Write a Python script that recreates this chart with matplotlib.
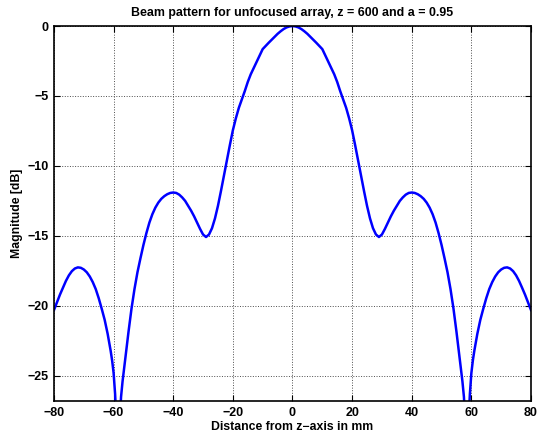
import matplotlib
matplotlib.use('Agg')
import matplotlib.pyplot as plt

# beam pattern, left half then right half
x_left = [-80, -79, -78, -77, -76, -75, -74, -73, -72, -71, -70, -69, -68, -67, -66, -65, -64, -63, -62,
          -61, -60.5, -60, -59.5, -59, -58.5, -58, -57.5, -57, -56.5, -56, -55, -54, -53, -52, -51, -50,
          -49, -48, -47, -46, -45, -44, -43, -42, -41, -40, -39, -38, -37, -36, -35, -34, -33, -32, -31,
          -30, -29, -28, -27, -26, -25, -24, -23, -22, -21, -20, -19, -18, -17, -16, -15, -14, -13, -12,
          -11, -10, -9, -8, -7, -6, -5, -4, -3, -2, -1]
db_left = [-20.3, -19.75, -19.2, -18.7, -18.22, -17.82, -17.52, -17.33, -17.25, -17.28, -17.4, -17.6, -17.9,
           -18.3, -18.8, -19.45, -20.2, -21.0, -22.0, -23.2, -23.9, -24.8, -26.3, -28.5, -45.0, -28.5, -26.5,
           -25.4, -24.5, -23.6, -21.85, -20.2, -18.8, -17.6, -16.6, -15.65, -14.8, -14.05, -13.45, -12.98,
           -12.62, -12.35, -12.16, -12.02, -11.93, -11.9, -11.93, -12.05, -12.25, -12.5, -12.85, -13.2, -13.6,
           -14.05, -14.5, -14.9, -15.08, -14.9, -14.45, -13.75, -12.85, -11.8, -10.7, -9.6, -8.5, -7.45, -6.6,
           -5.85, -5.25, -4.65, -4.0, -3.45, -3.0, -2.55, -2.1, -1.65, -1.42, -1.2, -0.99, -0.77, -0.56,
           -0.38, -0.22, -0.1, -0.03]

x_right = [0, 1, 2, 3, 4, 5, 6, 7, 8, 9, 10, 11, 12, 13, 14, 15, 16, 17, 18, 19, 20, 21, 22, 23, 24, 25,
           26, 27, 28, 29, 30, 31, 32, 33, 34, 35, 36, 37, 38, 39, 40, 41, 42, 43, 44, 45, 46, 47, 48, 49,
           50, 51, 52, 53, 54, 55, 56, 56.5, 57, 57.5, 58, 58.5, 59, 59.5, 60, 60.5, 61, 62, 63, 64, 65, 66,
           67, 68, 69, 70, 71, 72, 73, 74, 75, 76, 77, 78, 79, 80]
db_right = [0.0, -0.03, -0.1, -0.22, -0.38, -0.56, -0.77, -0.99, -1.2, -1.42, -1.65, -2.1, -2.55, -3.0,
            -3.45, -4.0, -4.65, -5.25, -5.85, -6.6, -7.45, -8.5, -9.6, -10.7, -11.8, -12.85, -13.75, -14.45,
            -14.9, -15.08, -14.9, -14.5, -14.05, -13.6, -13.2, -12.85, -12.5, -12.25, -12.05, -11.93, -11.9,
            -11.93, -12.02, -12.16, -12.35, -12.62, -12.98, -13.45, -14.05, -14.8, -15.65, -16.6, -17.6, -18.8,
            -20.2, -21.85, -23.6, -24.5, -25.4, -26.5, -28.5, -45.0, -28.5, -26.3, -24.8, -23.9, -23.2, -22.0,
            -21.0, -20.2, -19.45, -18.8, -18.3, -17.9, -17.6, -17.4, -17.28, -17.25, -17.33, -17.52, -17.82,
            -18.22, -18.7, -19.2, -19.75, -20.3]

xticks = [-80, -60, -40, -20, 0, 20, 40, 60, 80]
yticks = [-25, -20, -15, -10, -5, 0]

plt.rcParams['font.family'] = ['Liberation Sans', 'DejaVu Sans']
plt.rcParams['font.weight'] = 'bold'
plt.rcParams['font.size'] = 9

fig = plt.figure(figsize=(5.42, 4.41), dpi=100)
ax = fig.add_axes([0.0996, 0.0907, 0.8801, 0.8503])

ax.plot(x_left + x_right, db_left + db_right, color=(0, 0, 1), lw=1.8)

ax.set_xlim(-80, 80)
ax.set_ylim(-26.8, 0)
ax.set_xticks(xticks)
ax.set_yticks(yticks)
ax.grid(True, ls=':', color='0.3', lw=0.7)
ax.tick_params(direction='in', top=True, right=True, length=4, width=0.8, pad=4, labelsize=9)
for sp in ax.spines.values():
    sp.set_linewidth(1.2)

ax.set_xlabel('Distance from z\u2212axis in mm', fontweight='bold', fontsize=8.8, labelpad=2)
ax.set_ylabel('Magnitude [dB]', fontweight='bold', fontsize=8.8, labelpad=3)
ax.set_title('Beam pattern for unfocused array, z = 600 and a = 0.95', fontweight='bold',
             fontsize=8.9, pad=7)

fig.savefig('out.png', dpi=100)
